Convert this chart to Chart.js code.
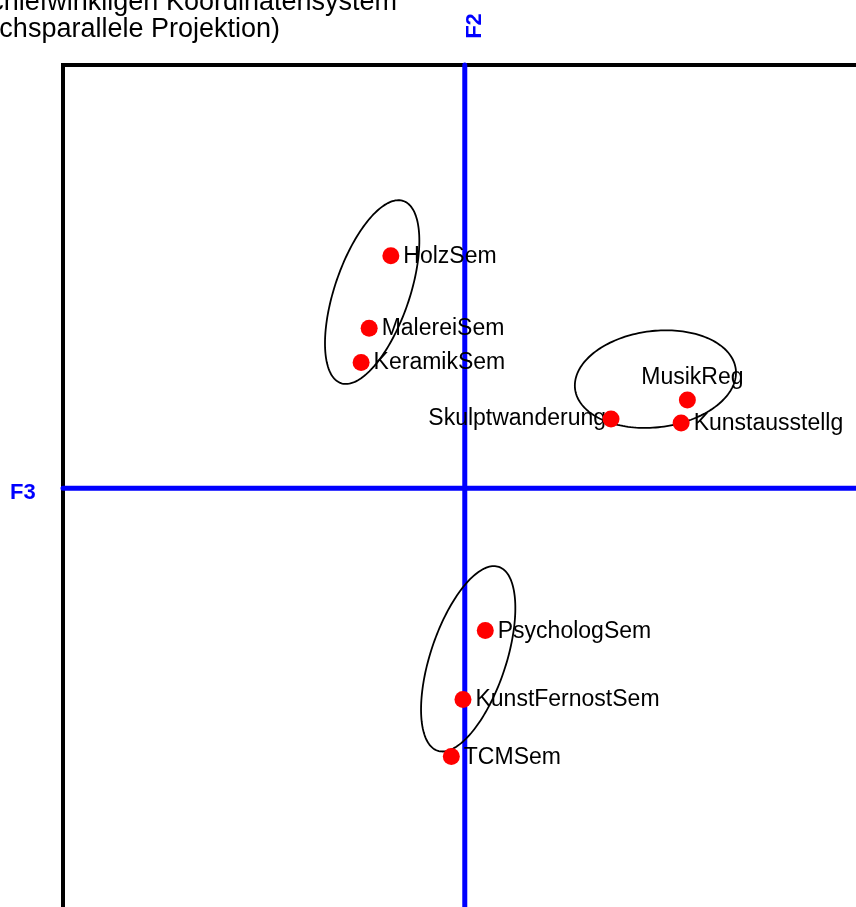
<!DOCTYPE html>
<html>
<head>
<meta charset="utf-8">
<script src="https://cdn.jsdelivr.net/npm/chart.js@4"></script>
<style>
    body { margin: 0; overflow: hidden; background: #fff; }
    #wrap { position: absolute; left: 0; top: 0; }
</style>
</head>
<body>
<div id="wrap"><canvas id="plot" width="967" height="1012"></canvas></div>
<script>
// Objects (F3 horizontal, F2 vertical)
const objectNames = ['HolzSem', 'MalereiSem', 'KeramikSem', 'MusikReg', 'Skulptwanderung',
    'Kunstausstellg', 'PsychologSem', 'KunstFernostSem', 'TCMSem'];
const f3Values = [-0.368, -0.476, -0.516, 1.108, 0.728, 1.077, 0.102, -0.009, -0.067];
const f2Values = [1.153, 0.793, 0.624, 0.437, 0.343, 0.323, -0.707, -1.049, -1.332];
const labelSides = ['right', 'right', 'right', 'above', 'left', 'right', 'right', 'right', 'right'];

// Cluster ellipses (data units)
const clusterX = [-0.461, 0.949, 0.017];
const clusterY = [0.973, 0.541, -0.847];
const clusterA = [0.478, 0.403, 0.481];
const clusterB = [0.186, 0.239, 0.188];
const clusterAngle = [71, 7, 71.5];

const titleLines = ['schiefwinkligen Koordinatensystem', '(achsparallele Projektion)'];
const FONT = '"Liberation Sans", Arial, sans-serif';

const points = f3Values.map((x, i) => ({ x: x, y: f2Values[i] }));

// frame, axes, ellipses and labels under the dots
const backgroundLayer = {
    id: 'backgroundLayer',
    beforeDatasetsDraw(chart) {
        const { ctx, chartArea: a, scales } = chart;
        const xs = scales.x, ys = scales.y;
        ctx.save();

        // black frame
        ctx.strokeStyle = '#000';
        ctx.lineWidth = 4;
        ctx.strokeRect(a.left, a.top, a.right - a.left, a.bottom - a.top);

        // blue F2/F3 axes
        const x0 = xs.getPixelForValue(0), y0 = ys.getPixelForValue(0);
        ctx.strokeStyle = '#0000ff';
        ctx.lineWidth = 5;
        ctx.lineCap = 'round';
        ctx.beginPath();
        ctx.moveTo(a.left, y0); ctx.lineTo(a.right, y0);
        ctx.moveTo(x0, a.top); ctx.lineTo(x0, a.bottom);
        ctx.stroke();

        // cluster ellipses
        ctx.strokeStyle = '#000';
        ctx.lineWidth = 1.8;
        ctx.lineCap = 'butt';
        clusterX.forEach((cx, k) => {
            const phi = clusterAngle[k] * Math.PI / 180;
            ctx.beginPath();
            for (let s = 0; s <= 180; s++) {
                const t = s / 180 * 2 * Math.PI;
                const u = clusterA[k] * Math.cos(t), v = clusterB[k] * Math.sin(t);
                const dx = cx + u * Math.cos(phi) - v * Math.sin(phi);
                const dy = clusterY[k] + u * Math.sin(phi) + v * Math.cos(phi);
                const px = xs.getPixelForValue(dx), py = ys.getPixelForValue(dy);
                if (s === 0) ctx.moveTo(px, py); else ctx.lineTo(px, py);
            }
            ctx.closePath();
            ctx.stroke();
        });

        // point labels
        ctx.fillStyle = '#000';
        ctx.font = '23px ' + FONT;
        ctx.textBaseline = 'alphabetic';
        points.forEach((p, i) => {
            const px = xs.getPixelForValue(p.x), py = ys.getPixelForValue(p.y);
            if (labelSides[i] === 'left') {
                ctx.textAlign = 'right';
                ctx.fillText(objectNames[i], px - 5, py + 6);
            } else if (labelSides[i] === 'above') {
                ctx.textAlign = 'center';
                ctx.fillText(objectNames[i], px + 5, py - 16);
            } else {
                ctx.textAlign = 'left';
                ctx.fillText(objectNames[i], px + 12.5, py + 7);
            }
        });
        ctx.restore();
    },
    afterDraw(chart) {
        const { ctx, chartArea: a, scales } = chart;
        const x0 = scales.x.getPixelForValue(0), y0 = scales.y.getPixelForValue(0);
        ctx.save();
        // title (runs off the left edge)
        ctx.fillStyle = '#000';
        ctx.font = '27px ' + FONT;
        ctx.textAlign = 'right';
        ctx.textBaseline = 'alphabetic';
        ctx.fillText(titleLines[0], 397, 10);
        ctx.fillText(titleLines[1], 280, 37);

        // axis names
        ctx.fillStyle = '#0000ff';
        ctx.font = 'bold 22px ' + FONT;
        ctx.textAlign = 'left';
        ctx.fillText('F3', a.left - 53, y0 + 11);
        ctx.translate(x0 + 16, 26);
        ctx.rotate(-Math.PI / 2);
        ctx.textAlign = 'center';
        ctx.fillText('F2', 0, 0);
        ctx.restore();
    }
};

const chart = new Chart(document.getElementById('plot').getContext('2d'), {
    type: 'scatter',
    data: {
        datasets: [{
            data: points,
            backgroundColor: '#ff0000',
            borderWidth: 0,
            pointRadius: 8.5,
            pointHoverRadius: 8.5
        }]
    },
    options: {
        responsive: false,
        animation: false,
        events: [],
        layout: { autoPadding: false, padding: { left: 63, top: 65, right: 0, bottom: 0 } },
        plugins: { legend: { display: false }, title: { display: false }, tooltip: { enabled: false } },
        scales: {
            x: { type: 'linear', min: -2, max: 2.5, display: false },
            y: { type: 'linear', min: -2.6, max: 2.1, display: false }
        }
    },
    plugins: [backgroundLayer]
});
</script>
</body>
</html>
